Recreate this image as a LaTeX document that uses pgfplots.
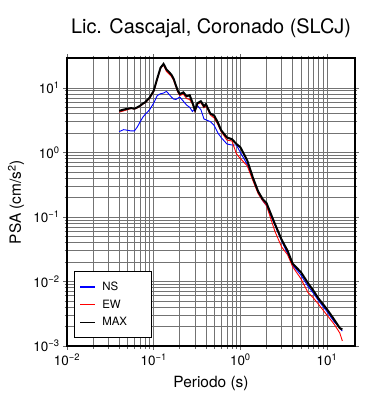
\documentclass[border=0pt]{standalone}
\usepackage{fontspec}
\setmainfont{TeX Gyre Heros}
\usepackage{pgfplots}
\usepackage{pgfplotstable}
\pgfplotsset{compat=1.18}

\pgfplotstableread{
T     NS      EW      MAX
0.040 2.10    4.20    4.40
0.045 2.25    4.40    4.60
0.050 2.20    4.60    4.75
0.055 2.15    4.80    4.85
0.060 2.15    4.70    4.75
0.065 2.50    4.90    5.00
0.070 3.00    5.20    5.30
0.075 3.50    5.60    5.70
0.080 3.90    5.90    6.00
0.090 4.60    6.90    7.10
0.100 5.80    8.70    9.00
0.110 7.60    13.5    14.0
0.120 8.10    20.0    20.5
0.130 8.30    22.5    23.5
0.140 8.80    18.0    19.4
0.150 8.00    16.5    17.6
0.160 7.20    15.0    16.0
0.170 6.70    13.0    13.8
0.180 6.60    10.5    11.0
0.190 6.90    8.50    9.00
0.200 7.20    7.60    8.00
0.220 6.20    8.00    8.50
0.240 5.40    6.80    7.40
0.260 5.00    6.60    7.70
0.280 4.30    5.60    5.90
0.300 4.80    4.30    4.50
0.320 5.30    5.60    5.80
0.350 4.60    5.90    6.20
0.380 3.30    4.90    5.20
0.400 3.20    5.30    5.60
0.450 3.00    3.80    4.00
0.500 2.60    3.40    3.70
0.550 2.00    2.70    2.90
0.600 1.70    2.10    2.20
0.700 1.35    1.55    1.70
0.800 1.30    1.50    1.60
0.900 1.30    0.95    1.35
1.000 1.00    0.80    1.20
1.200 0.65    0.62    0.75
1.400 0.38    0.36    0.40
1.600 0.24    0.23    0.25
1.800 0.18    0.18    0.19
2.000 0.15    0.15    0.165
2.500 0.075   0.060   0.078
3.000 0.042   0.034   0.044
3.500 0.027   0.026   0.030
4.000 0.018   0.017   0.019
5.000 0.0125  0.011   0.0139
6.000 0.0085  0.0068  0.0095
7.000 0.0065  0.0055  0.0071
8.000 0.0050  0.0044  0.0054
10.00 0.0034  0.0030  0.0037
12.00 0.0024  0.0022  0.0026
14.00 0.0019  0.0016  0.0019
15.00 0.0017  0.0012  0.0018
}\data

\begin{document}
\begin{tikzpicture}
\begin{axis}[
  name=ax,
  scale only axis,
  width=288bp, height=288bp,
  xmode=log, ymode=log,
  xmin=0.01, xmax=21,
  ymin=0.001, ymax=29,
  axis line style={line width=1.5bp},
  tick align=outside,
  major tick length=4bp,
  minor tick length=2.5bp,
  every tick/.style={black!60, line width=0.6bp},
  grid=both,
  major grid style={black!55, line width=0.6bp},
  minor grid style={black!55, line width=0.6bp},
  xtick={0.01,0.1,1,10},
  xticklabels={10\textsuperscript{−2},10\textsuperscript{−1},10\textsuperscript{0},10\textsuperscript{1}},
  ytick={0.001,0.01,0.1,1,10},
  yticklabels={10\textsuperscript{−3},10\textsuperscript{−2},10\textsuperscript{−1},10\textsuperscript{0},10\textsuperscript{1}},
  ticklabel style={font=\fontsize{13.5}{16}\selectfont},
  title={Lic. Cascajal, Coronado (SLCJ)},
  title style={font=\fontsize{20}{24}\selectfont, at={(axis description cs:0.5,1)}, anchor=base, yshift=19bp},
  xlabel={Periodo (s)},
  xlabel style={font=\fontsize{15.5}{18}\selectfont, at={(axis description cs:0.5,0)}, anchor=base, yshift=-41bp},
  ylabel={PSA (cm/s\textsuperscript{2})},
  ylabel style={font=\fontsize{15.5}{18}\selectfont, at={(axis description cs:0,0.5)}, anchor=center, yshift=51bp},
  legend style={at={(axis description cs:0.024,0.028)}, anchor=south west, draw=black, line width=1.2bp,
    font=\fontsize{11.5}{14}\selectfont, inner xsep=5bp, inner ysep=8bp, row sep=4bp,
    nodes={text width=38bp, inner xsep=6bp}},
  legend cell align=left,
  legend image code/.code={\draw[#1] (0bp,0bp) -- (15bp,0bp);},
  legend image post style={line width=1.8bp},
]
\addplot[blue, line width=0.9bp] table[x=T,y=NS]{\data};
\addlegendentry{NS}
\addplot[red, line width=0.9bp] table[x=T,y=EW]{\data};
\addlegendentry{EW}
\addplot[black, line width=2bp] table[x=T,y=MAX]{\data};
\addlegendentry{MAX}
\end{axis}
\pgfresetboundingbox
\path[use as bounding box] ([xshift=-67bp,yshift=-54bp]ax.south west) rectangle ([xshift=35bp,yshift=58bp]ax.north east);
\end{tikzpicture}
\end{document}
